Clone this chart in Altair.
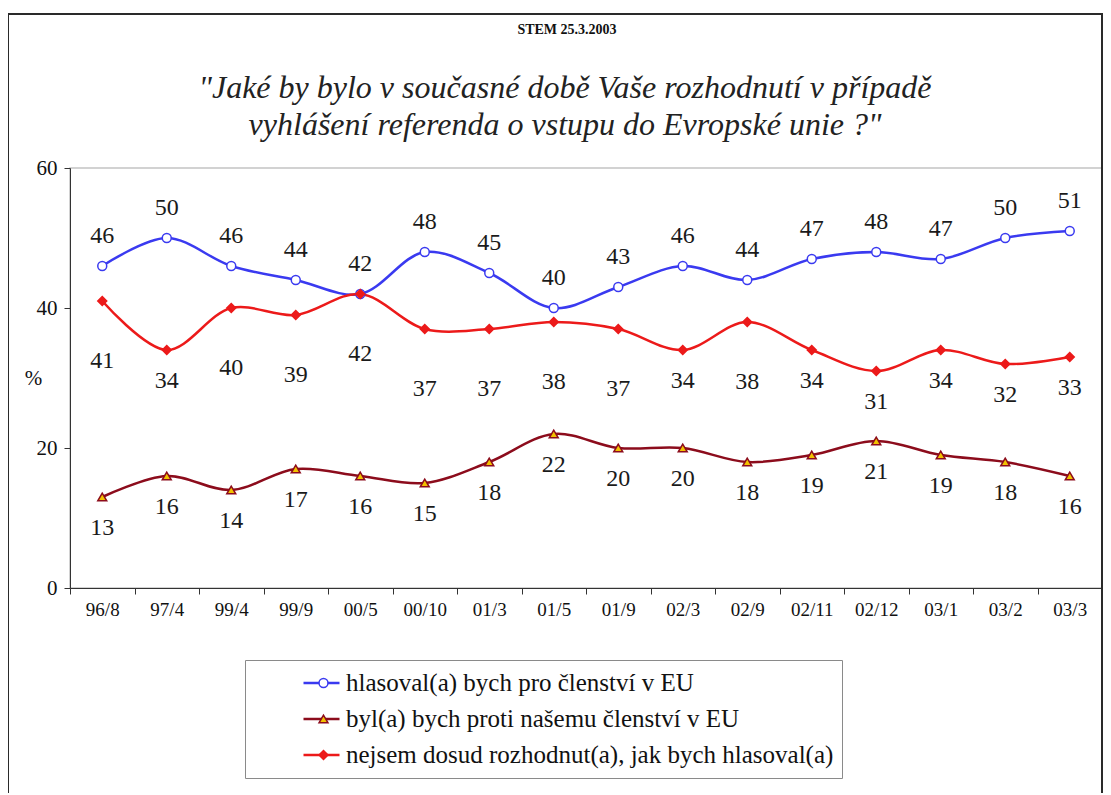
import altair as alt
import pandas as pd

dates = ["96/8", "97/4", "99/4", "99/9", "00/5", "00/10", "01/3", "01/5",
         "01/9", "02/3", "02/9", "02/11", "02/12", "03/1", "03/2", "03/3"]
pro = [46, 50, 46, 44, 42, 48, 45, 40, 43, 46, 44, 47, 48, 47, 50, 51]
proti = [13, 16, 14, 17, 16, 15, 18, 22, 20, 20, 18, 19, 21, 19, 18, 16]
nevi = [41, 34, 40, 39, 42, 37, 37, 38, 37, 34, 38, 34, 31, 34, 32, 33]

series_names = [
    "hlasoval(a) bych pro členství v EU",
    "byl(a) bych proti našemu členství v EU",
    "nejsem dosud rozhodnut(a), jak bych hlasoval(a)",
]
series_keys = ["pro", "proti", "nevi"]
line_colors = ["#3a3af0", "#8c0c1c", "#ec1a1a"]
marker_fills = ["#ffffff", "#f2c200", "#ec1a1a"]
marker_shapes = ["circle", "triangle-up", "diamond"]

source_text = "STEM 25.3.2003"
title_lines = ["\"Jaké by bylo v současné době Vaše rozhodnutí v případě",
               "vyhlášení referenda o vstupu do Evropské unie ?\""]

SERIF = "Liberation Serif"

rows = []
for name, key, vals in zip(series_names, series_keys, [pro, proti, nevi]):
    for i, (d, v) in enumerate(zip(dates, vals)):
        rows.append({"date": d, "value": v, "series": name, "key": key, "idx": i})
df = pd.DataFrame(rows)

x_enc = alt.X(
    "date:N", sort=dates,
    scale=alt.Scale(type="band", paddingInner=0, paddingOuter=0),
    axis=alt.Axis(tickBand="extent", labelAngle=0, labelFont=SERIF, labelFontSize=19,
                  labelColor="#111", tickColor="#333", domainColor="#333",
                  tickSize=6, labelPadding=6, title=None, grid=False),
)
y_enc = alt.Y(
    "value:Q", scale=alt.Scale(domain=[0, 60]),
    axis=alt.Axis(values=[0, 20, 40, 60], labelFont=SERIF, labelFontSize=21,
                  labelColor="#111", tickColor="#333", domainColor="#333",
                  tickSize=6, labelPadding=7, grid=False,
                  title="%", titleAngle=0, titleFont=SERIF, titleFontSize=21,
                  titleFontWeight="normal", titleColor="#111",
                  titleX=-37, titleY=210, titleAlign="center", titleBaseline="middle"),
)

base = alt.Chart(df).encode(x=x_enc, y=y_enc)

lines = base.mark_line(interpolate="catmull-rom", strokeWidth=2.5).encode(
    color=alt.Color(
        "series:N",
        scale=alt.Scale(domain=series_names, range=line_colors),
        legend=alt.Legend(
            title=None, orient="none", legendX=175, legendY=492,
            symbolType="stroke", symbolSize=1296, symbolStrokeWidth=2.5,
            labelFont=SERIF, labelFontSize=25, labelColor="#111", labelLimit=0,
            strokeColor="#8a8a8a", padding=8, rowPadding=6, clipHeight=30,
            symbolOffset=49, labelOffset=5,
        ),
    ),
    order="idx:Q",
)

pt_legend = dict(
    title=None, orient="none", legendX=175, legendY=492,
    symbolSize=80, symbolStrokeWidth=1.5,
    labelFont=SERIF, labelFontSize=25, labelExpr="''",
    padding=8, rowPadding=6, clipHeight=30,
    symbolOffset=58, labelOffset=5,
)
points = base.mark_point(filled=True, size=80, strokeWidth=1.5, opacity=1).encode(
    shape=alt.Shape("key:N", scale=alt.Scale(domain=series_keys, range=marker_shapes),
                    legend=alt.Legend(**pt_legend)),
    fill=alt.Fill("key:N", scale=alt.Scale(domain=series_keys, range=marker_fills),
                  legend=alt.Legend(**pt_legend)),
    stroke=alt.Stroke("key:N", scale=alt.Scale(domain=series_keys, range=line_colors),
                      legend=alt.Legend(**pt_legend)),
)

lbl = dict(font=SERIF, fontSize=24, color="#1a1a1a")
lab_pro = base.transform_filter(alt.datum.key == "pro").mark_text(dy=-30, **lbl).encode(text="value:Q")
lab_proti = base.transform_filter(alt.datum.key == "proti").mark_text(dy=31, **lbl).encode(text="value:Q")
lab_nevi_hi = base.transform_filter((alt.datum.key == "nevi") & (alt.datum.value >= 37)).mark_text(dy=60, **lbl).encode(text="value:Q")
lab_nevi_lo = base.transform_filter((alt.datum.key == "nevi") & (alt.datum.value < 37)).mark_text(dy=31, **lbl).encode(text="value:Q")

one = pd.DataFrame({"f": [0]})
frame = alt.Chart(one).mark_rect(
    fillOpacity=0, stroke="#2a2a2a", strokeWidth=2, clip=False
).encode(x=alt.value(-62), x2=alt.value(1032), y=alt.value(-154), y2=alt.value(700))

src = alt.Chart(one).mark_text(
    font=SERIF, fontSize=14, fontWeight="bold", color="#111", align="center", baseline="middle"
).encode(text=alt.value(source_text), x=alt.value(497), y=alt.value(-138))
t1 = alt.Chart(one).mark_text(
    font=SERIF, fontSize=32, fontStyle="italic", color="#222", align="center", baseline="middle"
).encode(text=alt.value(title_lines[0]), x=alt.value(495), y=alt.value(-80))
t2 = alt.Chart(one).mark_text(
    font=SERIF, fontSize=32, fontStyle="italic", color="#222", align="center", baseline="middle"
).encode(text=alt.value(title_lines[1]), x=alt.value(495), y=alt.value(-43))

chart = alt.layer(
    frame, src, t1, t2, lines, points, lab_pro, lab_proti, lab_nevi_hi, lab_nevi_lo
).resolve_legend(
    color="independent", shape="independent", fill="independent", stroke="independent"
).properties(
    width=1032, height=420,
    autosize=alt.AutoSizeParams(type="none"),
    padding={"left": 62, "top": 160, "right": 1, "bottom": 205},
).configure_view(stroke="#c4c4c4", strokeWidth=1.5)

chart.save("out.html", embed_options={"renderer": "svg", "actions": False})
